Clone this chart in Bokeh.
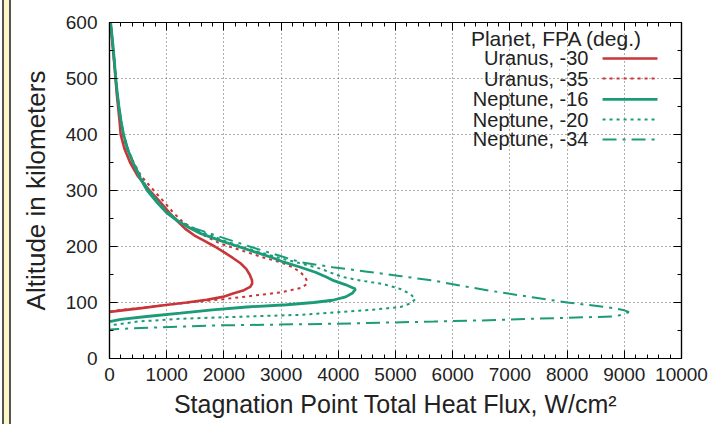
from bokeh.plotting import figure
from bokeh.models import LinearAxis, SingleIntervalTicker, Range1d, Div, CustomLabelingPolicy
from bokeh.layouts import row
from bokeh.core.properties import value
from bokeh.embed import file_html
from bokeh.resources import INLINE

# ---------------- data ----------------
x_ticks = list(range(0, 10001, 1000))
y_ticks = list(range(0, 601, 100))

legend_title = "Planet, FPA (deg.)"
series_names = ["Uranus, -30", "Uranus, -35", "Neptune, -16", "Neptune, -20", "Neptune, -34"]

uranus_30_alt = [600, 575, 550, 525, 500, 475, 450, 425, 400, 375, 350, 325, 300, 280, 260, 245,
                 232, 220, 210, 200, 190, 180, 170, 160, 150, 140, 134, 128, 122, 116, 110, 105,
                 100, 95, 90, 86, 83]
uranus_30_flux = [15, 40, 62, 85, 105, 125, 150, 175, 195, 260, 360, 500, 700, 880, 1050, 1190,
                  1320, 1480, 1660, 1840, 2000, 2150, 2290, 2390, 2450, 2490, 2495, 2460, 2350, 2160, 1980, 1700,
                  1350, 950, 560, 220, 0]

uranus_35_alt = [600, 575, 550, 525, 500, 475, 450, 425, 400, 375, 350, 325, 300, 280, 260, 245,
                 232, 220, 205, 190, 180, 172, 163, 154, 145, 138, 133, 126, 118, 112, 106, 100,
                 95, 90, 86, 84]
uranus_35_flux = [15, 40, 62, 85, 108, 130, 158, 190, 225, 300, 420, 560, 775, 950, 1120, 1270,
                  1450, 1650, 1940, 2400, 2700, 2990, 3200, 3340, 3420, 3455, 3450, 3350, 2990, 2500, 2000, 1400,
                  950, 500, 150, 0]

neptune_16_alt = [600, 575, 550, 525, 500, 475, 450, 425, 400, 375, 350, 325, 300, 280, 260, 245,
                  232, 223, 210, 200, 190, 180, 172, 163, 154, 145, 139, 132, 124, 117, 110, 104,
                  100, 96, 92, 87, 81, 75, 70, 66]
neptune_16_flux = [20, 45, 70, 90, 110, 135, 165, 200, 245, 310, 410, 520, 660, 820, 1000, 1200,
                   1420, 1600, 1950, 2250, 2550, 2850, 3050, 3340, 3600, 3800, 3921, 4120, 4300, 4250, 4130, 3900,
                   3570, 3100, 2400, 1800, 1240, 650, 200, 0]

neptune_20_alt = [600, 575, 550, 525, 500, 475, 450, 425, 400, 375, 350, 325, 300, 280, 260, 245,
                  232, 220, 210, 200, 190, 179, 170, 160, 150, 145, 139, 133, 124, 115, 106, 98,
                  92, 87, 83, 78, 75, 71, 66, 60, 57]
neptune_20_flux = [20, 45, 70, 90, 110, 135, 165, 200, 250, 320, 420, 540, 690, 850, 1030, 1220,
                   1460, 1760, 2020, 2300, 2620, 2990, 3340, 3700, 3950, 4100, 4400, 4790, 5087, 5262, 5350, 5250,
                   5087, 4600, 4040, 3340, 2400, 1240, 500, 70, 0]

neptune_34_alt = [600, 575, 550, 525, 500, 475, 450, 425, 400, 375, 350, 325, 300, 280, 260, 245,
                  232, 220, 210, 200, 192, 183, 172, 163, 155, 147, 139, 128, 118, 109, 100, 95,
                  90, 86, 83, 79, 75, 71, 68, 66, 62, 59, 55, 52]
neptune_34_flux = [20, 45, 70, 90, 110, 135, 165, 200, 250, 320, 420, 540, 690, 850, 1030, 1220,
                   1500, 1850, 2150, 2450, 2700, 2990, 3340, 3900, 4505, 5100, 5670, 6250, 6836, 7420, 8001, 8420,
                   8817, 9000, 9080, 9000, 8817, 7418, 6500, 5670, 3921, 1824, 700, 0]

series_flux = [uranus_30_flux, uranus_35_flux, neptune_16_flux, neptune_20_flux, neptune_34_flux]
series_alt = [uranus_30_alt, uranus_35_alt, neptune_16_alt, neptune_20_alt, neptune_34_alt]

# ---------------- styles ----------------
RED = "#c8363a"
GREEN = "#1b9b78"
styles = [
    dict(line_color=RED, line_width=2.6, line_dash="solid"),
    dict(line_color=RED, line_width=2.0, line_dash="3 4"),
    dict(line_color=GREEN, line_width=2.8, line_dash="solid"),
    dict(line_color=GREEN, line_width=2.0, line_dash="3 4"),
    dict(line_color=GREEN, line_width=2.0, line_dash="14 6 3 6"),
]
FONT = "Liberation Sans"
X0, X1 = 0, 10000
Y0, Y1 = 0, 600
STRIP_W = 16

p = figure(width=712 - STRIP_W, height=424, output_backend="svg", toolbar_location=None,
           x_range=Range1d(X0, X1), y_range=Range1d(Y0, Y1),
           min_border_left=109 - STRIP_W, min_border_right=31, min_border_top=22, min_border_bottom=66,
           x_axis_label="Stagnation Point Total Heat Flux, W/cm\u00b2",
           y_axis_label="Altitude in kilometers")
p.background_fill_color = "white"
p.border_fill_color = "white"
p.outline_line_color = "black"
p.outline_line_width = 1.2
p.margin = (0, 0, 0, 0)

xt = SingleIntervalTicker(interval=1000, num_minor_ticks=5)
yt = SingleIntervalTicker(interval=100, num_minor_ticks=2)
p.xaxis.ticker = xt
p.yaxis.ticker = yt
p.xgrid.ticker = xt
p.ygrid.ticker = yt

for g in (p.xgrid, p.ygrid):
    g.grid_line_color = "#444444"
    g.grid_line_alpha = 0.85
    g.grid_line_dash = "1 3"
    g.grid_line_width = 1

no_labels = CustomLabelingPolicy(code="for (const i of [...indices]) indices.unset(i)")

def style_axis(ax, labels=True):
    ax.axis_line_color = "black"
    ax.axis_line_width = 1.2
    ax.major_tick_in = 8
    ax.major_tick_out = 0
    ax.minor_tick_in = 4
    ax.minor_tick_out = 0
    ax.major_tick_line_color = "black"
    ax.minor_tick_line_color = "black"
    ax.major_label_text_font = FONT
    ax.major_label_text_color = "#222222"
    ax.axis_label_text_font = FONT
    ax.axis_label_text_font_style = "normal"
    ax.axis_label_text_color = "#222222"
    if not labels:
        ax.major_label_policy = no_labels
        ax.major_label_standoff = 0

for ax in p.xaxis:
    style_axis(ax)
    ax.major_label_text_font_size = "19px"
    ax.major_label_standoff = 9
    ax.axis_label_text_font_size = "25px"
    ax.axis_label_standoff = 6
for ax in p.yaxis:
    style_axis(ax)
    ax.major_label_text_font_size = "19px"
    ax.major_label_standoff = 12
    ax.axis_label_text_font_size = "26px"
    ax.axis_label_standoff = 12

top = LinearAxis(ticker=xt)
right = LinearAxis(ticker=yt)
style_axis(top, labels=False)
style_axis(right, labels=False)
p.add_layout(top, "above")
p.add_layout(right, "right")

for fx, al, st in zip(series_flux, series_alt, styles):
    p.line(x=fx, y=al, **st)

# ---------------- legend (gnuplot style: text left, sample right) ----------------
def fx_(f):
    return X0 + f * (X1 - X0)

def fy_(f):
    return Y0 + f * (Y1 - Y0)

p.text(x=[fx_(0.7815)], y=[fy_(0.952)], text=[legend_title], text_font=value(FONT),
       text_font_size="21px", text_align="center", text_baseline="middle", text_color="#222222")
row_y = [0.893, 0.833, 0.771, 0.711, 0.652]
for name, ry, st in zip(series_names, row_y, styles):
    p.text(x=[fx_(0.8374)], y=[fy_(ry)], text=[name], text_font=value(FONT),
           text_font_size="20px", text_align="right", text_baseline="middle", text_color="#222222")
    p.line(x=[fx_(0.862), fx_(0.958)], y=[fy_(ry), fy_(ry)], **st)

# left page strip (yellow band with dark edges), as in the reference screenshot
strip = Div(width=STRIP_W, height=424, margin=(0, 0, 0, 0),
            text='<div style="position:absolute;left:2px;top:0;width:9px;height:424px;'
                 'background:#fdf7c6;border-left:2px solid #555;border-right:2px solid #555;"></div>')

layout = row(strip, p, spacing=0)
open("out.html", "w").write(file_html(layout, INLINE))
